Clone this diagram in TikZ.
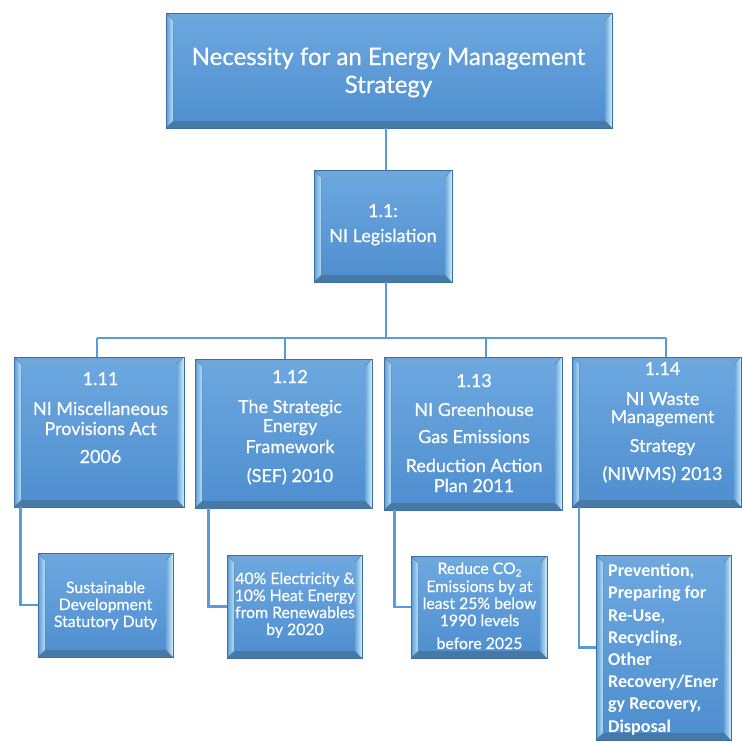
\documentclass[tikz,border=0pt]{standalone}
\usepackage{fontspec}
\setmainfont{Lato}[FakeBold=0.5]
\newfontfamily\calib{Carlito}
\usetikzlibrary{calc}
\definecolor{face}{HTML}{5B9BD5}
\definecolor{facetop}{HTML}{6DA8E0}
\definecolor{facebot}{HTML}{4E8ECF}
\definecolor{rim}{HTML}{3C6FA6}
\definecolor{lite}{HTML}{CDEFFD}
\definecolor{linec}{HTML}{5B9BD5}
\def\bv{7pt}
\tikzset{
  bevbox/.style={rectangle, draw=rim, line width=0.8pt, inner sep=0pt,
    top color=facetop, bottom color=facebot,
    path picture={
      \coordinate (A) at (path picture bounding box.south west);
      \coordinate (B) at (path picture bounding box.north east);
      \fill[face!88!white] (A|-B) -- (B) -- ($(B)+(-\bv,-\bv)$) -- ($(A|-B)+(\bv,-\bv)$) -- cycle;
      \fill[face!78!black] (A) -- (A-|B) -- ($(A-|B)+(-\bv,\bv)$) -- ($(A)+(\bv,\bv)$) -- cycle;
      \fill[left color=face, right color=lite!80!face] (A) -- (A|-B) -- ($(A|-B)+(\bv,-\bv)$) -- ($(A)+(\bv,\bv)$) -- cycle;
      \fill[left color=face!90!white, right color=lite] (A-|B) -- (B) -- ($(B)+(-\bv,-\bv)$) -- ($(A-|B)+(-\bv,\bv)$) -- cycle;
    }},
  conn/.style={draw=linec, line width=2.6pt},
  txt/.style={text=white, align=center, inner sep=0pt, anchor=base},
  bigtxt/.style={txt, font=\fontsize{18}{20}\selectfont},
  smalltxt/.style={txt, font=\fontsize{15.8}{17}\selectfont},
}
\begin{document}
\begin{tikzpicture}[x=1pt,y=-1pt]
\useasboundingbox (0,0) rectangle (742,742);
% connectors
\coordinate (d11) at (97,338);
\coordinate (d12) at (285,338);
\coordinate (d13) at (486,338);
\coordinate (d14) at (666,338);
\node[bevbox, minimum width=446pt, minimum height=115pt] (top) at (389,70.5) {};
\node[bevbox, minimum width=138pt, minimum height=112pt] (l1) at (383,226) {};
\node[bevbox, minimum width=170pt, minimum height=150pt] (b11) at (99,432) {};
\node[bevbox, minimum width=177pt, minimum height=149pt] (b12) at (283.5,433.5) {};
\node[bevbox, minimum width=178pt, minimum height=153pt] (b13) at (473,433.5) {};
\node[bevbox, minimum width=169pt, minimum height=150pt] (b14) at (656.8,432) {};
\node[bevbox, minimum width=135pt, minimum height=104pt] (s11) at (105.5,605) {};
\node[bevbox, minimum width=135pt, minimum height=103pt] (s12) at (294.5,606.5) {};
\node[bevbox, minimum width=136pt, minimum height=102pt] (s13) at (479,607) {};
\node[bevbox, minimum width=135pt, minimum height=185pt] (s14) at (663.5,647.5) {};
\path (top.south) ++(-3,0) coordinate (tp);
\draw[conn] (tp) -- (tp |- l1.north);
\draw[conn] (tp |- l1.south) -- (tp |- d11);
\draw[conn] (d11) -- (d14);
\draw[conn] (d11) -- (d11 |- b11.north);
\draw[conn] (d12) -- (d12 |- b12.north);
\draw[conn] (d13) -- (d13 |- b13.north);
\draw[conn] (d14) -- (d14 |- b14.north);
\draw[conn] ($(b11.south west)+(7,0)$) |- (s11.west);
\draw[conn] ($(b12.south west)+(14,0)$) |- (s12.west);
\draw[conn] ($(b13.south west)+(11,0)$) |- (s13.west);
\draw[conn] ($(b14.south west)+(7,0)$) |- (s14.west);
% texts (anchor base = last line)
\node[txt, font=\fontsize{24}{28}\selectfont] (ttop) at (388.5,93) {Necessity for an Energy Management\\Strategy};
\node[txt, font=\fontsize{18}{25}\selectfont] (tl1) at (383,242) {1.1:\\NI Legislation};
\node[bigtxt] (t11) at (100.5,463) {1.11\\[10pt]NI Miscellaneous\\Provisions Act\\[8pt]2006};
\node[bigtxt] (t12) at (290,482) {1.12\\[10pt]The Strategic\\[-1pt]Energy\\[1pt]Framework\\[9pt](SEF) 2010};
\node[bigtxt] (t13) at (474,492) {1.13\\[9pt]NI Greenhouse\\[7pt]Gas Emissions\\[9pt]Reduction Action\\Plan 2011};
\node[bigtxt] (t14) at (662.5,480) {1.14\\[10pt]NI Waste\\[-2pt]Management\\[9pt]Strategy\\[8pt](NIWMS) 2013};
\node[smalltxt] (u11) at (105.5,627) {Sustainable\\Development\\Statutory Duty};
\node[smalltxt] (u12) at (295,635) {40\% Electricity \&\\10\% Heat Energy\\from Renewables\\by 2020};
\node[smalltxt] (u13) at (479.5,649) {Reduce CO{\fontsize{10}{10}\selectfont\raisebox{-2.5pt}{2}}\\[1pt]Emissions by at\\least 25\% below\\1990 levels\\[6pt]before 2025};
\node[txt, align=left, anchor=base west, font=\calib\bfseries\fontsize{18}{22.2}\selectfont] (u14) at (608,732) {Prevention,\\Preparing for\\Re-Use,\\Recycling,\\Other\\Recovery/Ener\\gy Recovery,\\Disposal};
\end{tikzpicture}
\end{document}
